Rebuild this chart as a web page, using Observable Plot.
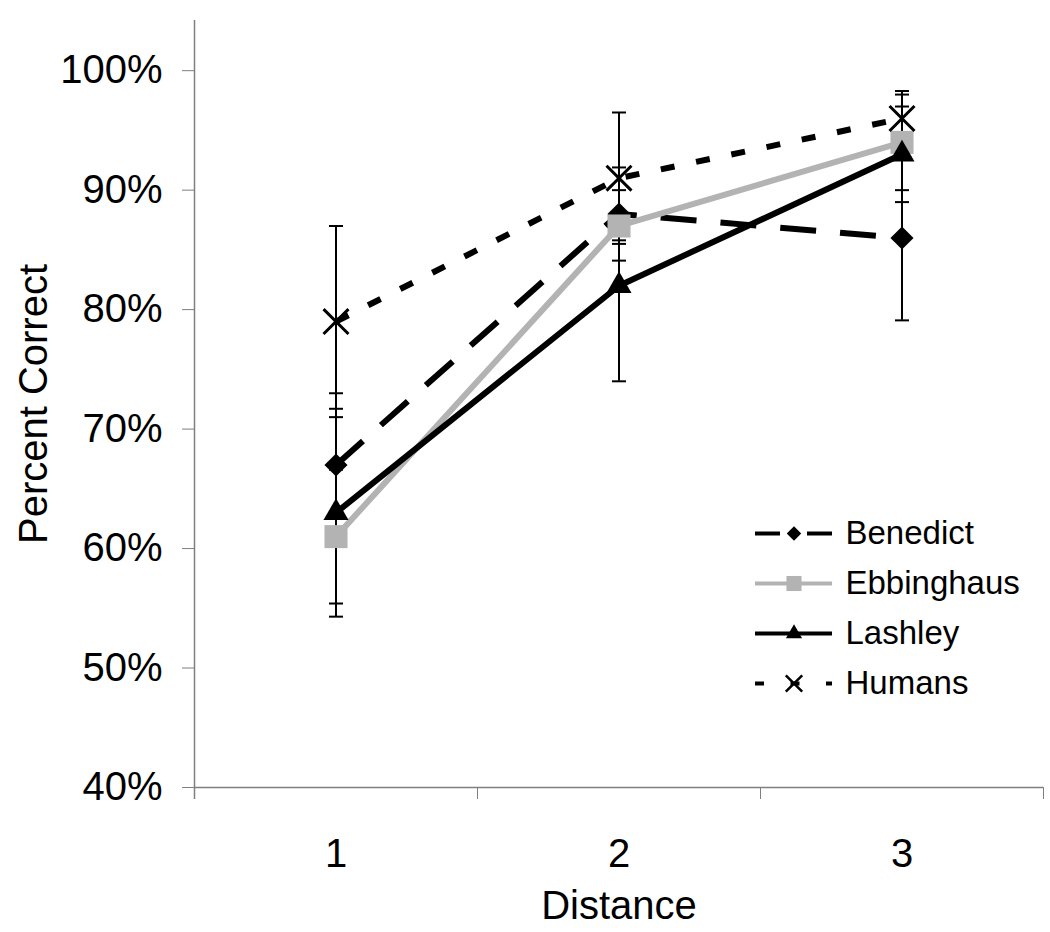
<!DOCTYPE html>
<html>
<head>
<meta charset="utf-8">
<script src="https://cdn.jsdelivr.net/npm/d3@7"></script>
<script src="https://cdn.jsdelivr.net/npm/@observablehq/plot@0.6"></script>
<style>
  html, body { margin: 0; padding: 0; background: #fff; }
  #wrap { position: relative; width: 1050px; height: 932px; }
  #legend { position: absolute; left: 720px; top: 500px; }
  svg { font-family: "Liberation Sans", Arial, sans-serif; }
</style>
</head>
<body>
<div id="wrap"><div id="chart"></div><div id="legend"></div></div>
<script>
// ---- data ----
const categories = [1, 2, 3];
const seriesNames = ["Benedict", "Ebbinghaus", "Lashley", "Humans"];
const benedict   = [67, 88, 86];
const ebbinghaus = [61, 87, 94];
const lashley    = [63, 82, 93];
const humans     = [79, 91, 96];
const benedictErr   = [6, 3.9, 6.9];
const ebbinghausErr = [5.6, 1.2, 4];
const lashleyErr    = [8.7, 8, 4];
const humansErr     = [8, 5.5, 2.3];
const yTicks = [40, 50, 60, 70, 80, 90, 100];
const xBoundaries = [0.5, 1.5, 2.5, 3.5];

// ---- styles ----
const styles = {
  Benedict:   {stroke: "#000", dash: "36,24", legendDash: "25,27", symbol: "diamond2", fill: "#000", r: 10.4, lr: 6.5},
  Ebbinghaus: {stroke: "#b3b3b3", dash: null, legendDash: null, symbol: "square", fill: "#b3b3b3", r: 13, lr: 8.5},
  Lashley:    {stroke: "#000", dash: null, legendDash: null, symbol: "triangle", fill: "#000", r: 9.3, lr: 6},
  Humans:     {stroke: "#000", dash: "14,22", legendDash: "9,26.5", symbol: "times", fill: "none", r: 11.4, lr: 7.5}
};

const values = [benedict, ebbinghaus, lashley, humans];
const errs = [benedictErr, ebbinghausErr, lashleyErr, humansErr];
const rows = seriesNames.flatMap((s, i) => categories.map((c, j) => ({
  series: s, x: c, y: values[i][j], lo: values[i][j] - errs[i][j], hi: values[i][j] + errs[i][j]
})));

const cap = {draw(ctx) { ctx.moveTo(-7, 0); ctx.lineTo(7, 0); }};
const axisGray = "#7f7f7f";

const seriesMarks = seriesNames.flatMap(s => {
  const st = styles[s];
  const d = rows.filter(r => r.series === s);
  return [
    Plot.line(d, {x: "x", y: "y", stroke: st.stroke, strokeWidth: 6, strokeDasharray: st.dash, strokeLinecap: "butt", strokeLinejoin: "miter"}),
    Plot.dot(d, {x: "x", y: "y", symbol: st.symbol, r: st.r, fill: st.fill,
      stroke: st.symbol === "times" ? "#000" : "none", strokeWidth: 3})
  ];
});

const chart = Plot.plot({
  width: 1050,
  height: 932,
  marginLeft: 194,
  marginRight: 7,
  marginTop: 20,
  marginBottom: 145,
  style: {fontFamily: "'Liberation Sans', Arial, sans-serif", background: "#fff"},
  x: {domain: [0.5, 3.5]},
  y: {domain: [40, 104.2]},
  marks: [
    Plot.axisY({ticks: yTicks, tickSize: 12, tickPadding: 20, tickFormat: d => d + "%", fontSize: 40,
      stroke: axisGray, color: "#000", label: "Percent Correct", labelAnchor: "center", labelOffset: 176, labelArrow: "none"}),
    Plot.axisX({ticks: xBoundaries, tickSize: 12, tickFormat: () => "", stroke: axisGray, label: null}),
    Plot.axisX({ticks: categories, tickSize: 0, tickPadding: 51, tickFormat: d => String(d), fontSize: 40,
      color: "#000", label: "Distance", labelAnchor: "center", labelOffset: 131, labelArrow: "none"}),
    Plot.ruleX([0.5], {stroke: axisGray, strokeWidth: 1.5, insetBottom: -12}),
    Plot.ruleY([40], {stroke: axisGray, strokeWidth: 1.5}),
    Plot.ruleX(rows, {x: "x", y1: "lo", y2: "hi", stroke: "#000", strokeWidth: 2}),
    Plot.dot(rows, {x: "x", y: "lo", symbol: cap, stroke: "#000", strokeWidth: 2, fill: "none"}),
    Plot.dot(rows, {x: "x", y: "hi", symbol: cap, stroke: "#000", strokeWidth: 2, fill: "none"}),
    ...seriesMarks
  ]
});
document.getElementById("chart").appendChild(chart);

// ---- legend ----
const legendRows = seriesNames.map(s => ({series: s}));
const legendMarks = seriesNames.flatMap(s => {
  const st = styles[s];
  const d = legendRows.filter(r => r.series === s);
  return [
    Plot.ruleY(d, {y: "series", x1: 0, x2: 1, stroke: st.stroke, strokeWidth: 4, strokeDasharray: st.legendDash}),
    Plot.dot(d, {x: 0.5, y: "series", symbol: st.symbol, r: st.lr, fill: st.fill,
      stroke: st.symbol === "times" ? "#000" : "none", strokeWidth: 2.5})
  ];
});
const legend = Plot.plot({
  width: 330,
  height: 215,
  marginLeft: 35,
  marginRight: 218,
  marginTop: 32,
  marginBottom: 32,
  style: {fontFamily: "'Liberation Sans', Arial, sans-serif", background: "transparent", overflow: "visible"},
  x: {domain: [0, 1], axis: null},
  y: {type: "point", domain: seriesNames, padding: 0, axis: null},
  marks: [
    ...legendMarks,
    Plot.text(legendRows, {x: 1, y: "series", text: "series", textAnchor: "start", dx: 13, fontSize: 33, fill: "#000"})
  ]
});
document.getElementById("legend").appendChild(legend);
</script>
</body>
</html>
